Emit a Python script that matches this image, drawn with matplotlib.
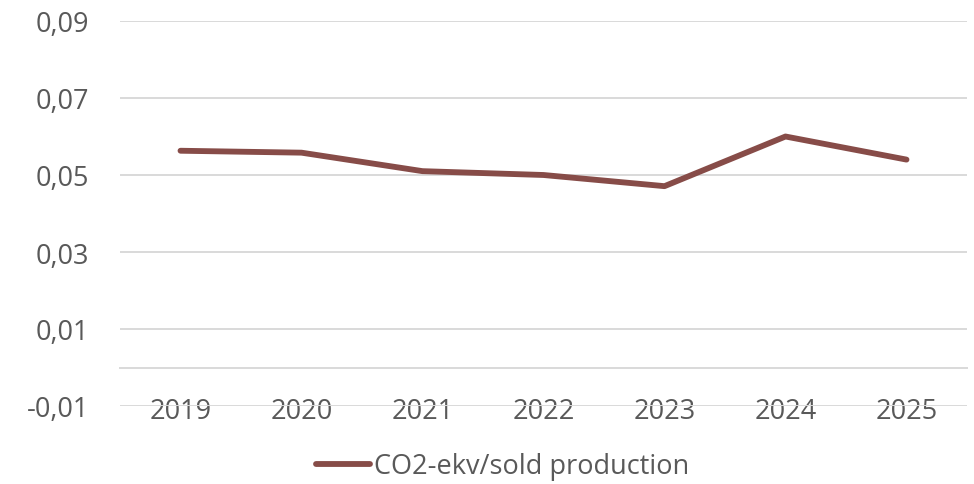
import matplotlib.pyplot as plt

# Data
years = ['2019', '2020', '2021', '2022', '2023', '2024', '2025']
co2_per_sold = [0.0563, 0.0558, 0.0510, 0.0500, 0.0471, 0.0600, 0.0540]
y_ticks = [-0.01, 0.01, 0.03, 0.05, 0.07, 0.09]
y_tick_labels = ['-0,01', '0,01', '0,03', '0,05', '0,07', '0,09']

plt.rcParams['font.family'] = ['Open Sans', 'DejaVu Sans']
text_grey = '#595959'
grid_grey = '#D9D9D9'
line_col = '#874C48'

fig = plt.figure(figsize=(9.74, 4.85), dpi=100)
ax = fig.add_axes([120/974, 1 - 407/485, (967 - 120)/974, (407 - 22)/485])

x = list(range(len(years)))
ax.plot(x, co2_per_sold, color=line_col, lw=4.2, solid_capstyle='round',
        solid_joinstyle='round', label='CO2-ekv/sold production')

ax.set_xlim(-0.5, len(years) - 0.5)
ax.set_ylim(-0.01, 0.09)
ax.set_yticks(y_ticks)
ax.set_yticklabels(y_tick_labels)
ax.set_xticks(x)
ax.set_xticklabels(years)

ax.grid(axis='y', color=grid_grey, lw=1.4)
ax.set_axisbelow(True)
for s in ['top', 'right', 'left']:
    ax.spines[s].set_visible(False)
ax.spines['bottom'].set_position(('data', 0))
ax.spines['bottom'].set_color(grid_grey)
ax.spines['bottom'].set_linewidth(1.4)

ax.tick_params(axis='y', length=0, pad=22, labelsize=19.5, labelcolor=text_grey)
ax.tick_params(axis='x', length=0, pad=21, labelsize=19.5, labelcolor=text_grey)

leg = fig.legend(loc='center', bbox_to_anchor=(503/974, 1 - 467/485),
                 frameon=False, fontsize=19.5, handlelength=2.0,
                 handletextpad=0.15, labelcolor=text_grey)

fig.savefig('out.png', dpi=100)
